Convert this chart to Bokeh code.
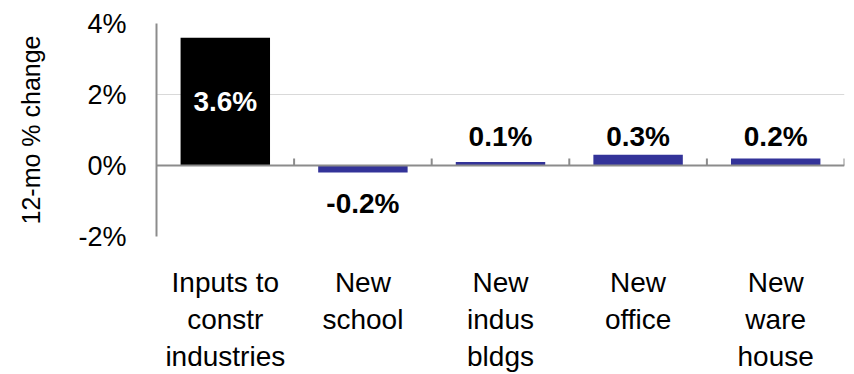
from bokeh.plotting import figure
from bokeh.models import Range1d, FixedTicker, ColumnDataSource, PrintfTickFormatter, Span
from bokeh.embed import file_html
from bokeh.resources import INLINE
from bokeh.core.properties import value as V

# ---- data ----
categories = ["Inputs to\nconstr\nindustries", "New\nschool", "New\nindus\nbldgs", "New\noffice", "New\nware\nhouse"]
values = [3.6, -0.2, 0.1, 0.3, 0.2]
value_labels = ["3.6%", "-0.2%", "0.1%", "0.3%", "0.2%"]
bar_colors = ["#000000", "#333399", "#333399", "#333399", "#333399"]
y_ticks = [-2, 0, 2, 4]
y_title = "12-mo % change"

# ---- layout ----
FONT = "Liberation Sans"
W, H = 854, 374
LEFT, RIGHT, TOP, BOTTOM = 156, 10, 23, 136
y_min, y_max = -2, 4
frame_h = H - TOP - BOTTOM
px = frame_h / (y_max - y_min)  # pixels per data unit

n = len(categories)
xs = [i + 0.5 for i in range(n)]

p = figure(width=W, height=H, output_backend="svg", toolbar_location=None,
           x_range=Range1d(0, n), y_range=Range1d(y_min, y_max),
           min_border_left=LEFT, min_border_right=RIGHT,
           min_border_top=TOP, min_border_bottom=BOTTOM)
p.outline_line_color = None
p.background_fill_color = "white"
p.border_fill_color = "white"

# grid
p.xgrid.grid_line_color = None
p.ygrid.ticker = FixedTicker(ticks=y_ticks)
p.ygrid.grid_line_color = "#d9d9d9"
p.ygrid.grid_line_width = 1

# bars
p.vbar(x=xs, top=values, bottom=0, width=0.65, fill_color=bar_colors, line_color=None)

# zero line with category separator ticks
p.add_layout(Span(location=0, dimension="width", line_color="#8c8c8c", line_width=2))
bounds = [i + 1 for i in range(n)]
p.segment(x0=bounds, y0=[0] * n, x1=bounds, y1=[7 / px] * n, line_color="#8c8c8c", line_width=2)

# value labels
lab_y, lab_c = [], []
for v in values:
    if v > 1:
        lab_y.append(v / 2)
        lab_c.append("white")
    elif v >= 0:
        lab_y.append(29 / px)
        lab_c.append("black")
    else:
        lab_y.append(v - 31 / px)
        lab_c.append("black")
src = ColumnDataSource(dict(x=xs, y=lab_y, text=value_labels, color=lab_c))
p.text(x="x", y="y", text="text", text_color="color", source=src,
       text_font=V(FONT), text_font_style="bold", text_font_size="28px",
       text_align="center", text_baseline="middle")

# y axis
ya = p.yaxis[0]
ya.ticker = FixedTicker(ticks=y_ticks)
ya.formatter = PrintfTickFormatter(format="%d%%")
ya.major_label_text_font = FONT
ya.major_label_text_font_size = "27px"
ya.major_label_text_color = "black"
ya.major_label_standoff = 24
ya.major_tick_line_color = None
ya.minor_tick_line_color = None
ya.axis_line_color = "#8c8c8c"
ya.axis_line_width = 2
ya.axis_label = y_title
ya.axis_label_text_font = FONT
ya.axis_label_text_font_size = "25px"
ya.axis_label_text_font_style = "normal"
ya.axis_label_text_color = "black"
ya.axis_label_standoff = 30

# x axis
xa = p.xaxis[0]
xa.ticker = FixedTicker(ticks=xs)
xa.major_label_overrides = {x: c for x, c in zip(xs, categories)}
xa.major_label_text_font = FONT
xa.major_label_text_font_size = "28px"
xa.major_label_text_color = "black"
xa.major_label_standoff = 24
xa.major_tick_line_color = None
xa.minor_tick_line_color = None
xa.axis_line_color = None

open("out.html", "w").write(file_html(p, INLINE))
